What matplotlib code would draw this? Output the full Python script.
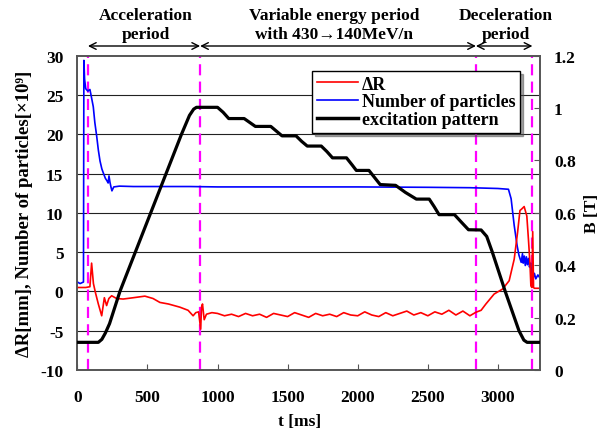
import matplotlib
matplotlib.use("Agg")
import matplotlib.pyplot as plt
from matplotlib.lines import Line2D

plt.rcParams['font.family'] = ['Liberation Serif', 'DejaVu Serif']
plt.rcParams['font.weight'] = 'bold'

# ---- data ----
t_blue = [0, 20, 44, 47, 52, 60, 75, 90, 100, 114, 125, 138, 150, 162, 175, 183, 200, 211, 220, 226, 233,
          240, 247, 260, 300, 400, 600, 800, 1000, 1500, 2000, 2500, 2800, 3000, 3075, 3094, 3116, 3137,
          3150, 3166, 3175, 3180, 3188, 3195, 3203, 3210, 3218, 3225, 3233, 3240, 3250, 3260, 3270, 3285, 3300]
n_blue = [1.2, 1.0, 1.2, 29.4, 27.0, 25.8, 25.5, 25.7, 24.8, 23.5, 21.5, 19.8, 18.0, 16.6, 15.6, 15.2, 14.4,
          14.1, 13.8, 14.7, 13.9, 13.3, 12.8, 13.3, 13.4, 13.35, 13.35, 13.35, 13.3, 13.3, 13.3, 13.25, 13.2,
          13.1, 13.0, 11.8, 8.4, 5.8, 4.6, 3.7, 4.8, 3.6, 4.5, 3.3, 4.4, 3.4, 4.2, 3.1, 3.6, 2.6, 1.6, 2.3,
          1.6, 2.1, 1.7]

t_red = [0, 60, 90, 102, 115, 130, 150, 174, 193, 209, 225, 245, 280, 327, 400, 482, 540, 589, 650, 731,
         790, 826, 845, 865, 880, 886, 893, 905, 921, 960, 1000, 1050, 1100, 1150, 1200, 1250, 1300, 1350,
         1400, 1450, 1500, 1550, 1600, 1650, 1700, 1750, 1800, 1850, 1900, 1950, 2000, 2050, 2100, 2150,
         2200, 2250, 2300, 2350, 2400, 2450, 2500, 2550, 2600, 2650, 2700, 2750, 2800, 2843, 2880, 2914,
         2973, 3033, 3080, 3116, 3140, 3157, 3170, 3187, 3206, 3218, 3228, 3235, 3242, 3248, 3254, 3260, 3300]
v_red = [0.5, 0.5, 0.6, 3.6, 1.0, -0.2, -1.6, -3.1, -0.8, -1.8, -0.9, -0.55, -0.9, -0.97, -0.8, -0.6,
         -0.9, -1.4, -1.6, -2.0, -2.4, -3.1, -2.7, -2.6, -4.8, -2.0, -1.6, -3.6, -2.9, -2.7, -2.8, -3.1,
         -2.9, -3.2, -2.8, -3.1, -2.9, -3.3, -2.8, -3.0, -3.2, -2.7, -3.0, -3.3, -2.8, -3.1, -2.9, -3.2,
         -2.7, -3.0, -3.1, -2.6, -3.0, -3.2, -2.7, -3.1, -2.8, -2.5, -3.0, -2.7, -3.1, -2.6, -2.9, -2.4,
         -3.0, -2.5, -3.1, -2.65, -2.4, -1.6, -0.33, 0.3, 1.36, 4.1, 7.5, 10.3, 10.5, 10.8, 9.6, 6.5, 3.7,
         0.7, 0.5, 7.6, 0.5, 0.4, 0.4]

t_black = [0, 150, 175, 200, 230, 304, 743, 800, 830, 850, 1000, 1040, 1080, 1190, 1230, 1270, 1380,
           1420, 1460, 1560, 1600, 1640, 1740, 1780, 1820, 1920, 1960, 1990, 2080, 2120, 2160, 2270,
           2340, 2418, 2510, 2545, 2580, 2690, 2740, 2790, 2880, 2920, 2960, 3052, 3150, 3185, 3208, 3300]
v_black_left = [-6.48, -6.48, -6.1, -5.3, -4.1, 0.0, 20.0, 22.4, 23.2, 23.43, 23.43, 22.8, 22.0, 22.0,
                21.5, 21.0, 21.0, 20.4, 19.8, 19.8, 19.1, 18.5, 18.5, 17.8, 17.0, 17.0, 16.1, 15.4, 15.4,
                14.5, 13.6, 13.5, 12.6, 11.75, 11.75, 10.8, 9.77, 9.77, 8.8, 7.85, 7.82, 7.0, 5.0, 0.0,
                -5.0, -6.2, -6.48, -6.48]
b_black = [(v + 10) / 40 * 1.2 for v in v_black_left]

vlines_t = [76, 876, 2843, 3246]

left_ticks = [-10, -5, 0, 5, 10, 15, 20, 25, 30]
right_ticks = [0, 0.2, 0.4, 0.6, 0.8, 1.0, 1.2]
right_ticklabels = ['0', '0.2', '0.4', '0.6', '0.8', '1', '1.2']
x_ticks = [0, 500, 1000, 1500, 2000, 2500, 3000]

# ---- figure ----
W, H = 606, 431
AX_L, AX_R, AX_T, AX_B = 77.3, 540, 56.7, 371
fig = plt.figure(figsize=(W / 100, H / 100), dpi=100)
ax = fig.add_axes([AX_L / W, 1 - AX_B / H, (AX_R - AX_L) / W, (AX_B - AX_T) / H])
ax2 = ax.twinx()

ax.set_xlim(0, 3300)
ax.set_ylim(-10, 30)
ax2.set_ylim(0, 1.2)

for y in [-5, 0, 5, 10, 15, 20, 25]:
    ax.axhline(y, color='#222222', lw=0.8, zorder=1)

for tv in vlines_t:
    ax.axvline(tv, color='#FF00FF', lw=1.6, dashes=(5, 2.8), zorder=2)

ax.plot(t_blue, n_blue, color='#0000FF', lw=1.2, zorder=3)
ax.plot(t_red, v_red, color='#FF0000', lw=1.2, zorder=3)
ax2.plot(t_black, b_black, color='black', lw=2.3, zorder=4)

fs = 12.5
ax.set_yticks(left_ticks)
ax.set_yticklabels([str(v) for v in left_ticks], fontsize=fs, fontweight='bold')
ax.set_xticks(x_ticks)
ax.set_xticklabels([str(v) for v in x_ticks], fontsize=fs, fontweight='bold')
ax2.set_yticks(right_ticks)
ax2.set_yticklabels(right_ticklabels, fontsize=fs, fontweight='bold')

ax.tick_params(axis='x', direction='in', length=4, color='#555555', pad=14)
ax.tick_params(axis='y', direction='in', length=0, pad=10)
ax2.tick_params(axis='y', direction='in', length=4, color='#555555', pad=10)

for a in (ax, ax2):
    for s in a.spines.values():
        s.set_color('#555555')
        s.set_linewidth(1.2)

ax.set_xlabel('t [ms]', fontsize=fs, fontweight='bold')
ax.xaxis.set_label_coords((300 - AX_L) / (AX_R - AX_L), 1 - (414 - AX_T) / (AX_B - AX_T))
ax.set_ylabel('ΔR[mm], Number of particles[×10⁹]', fontsize=13.5, fontweight='bold', va='center')
ax.yaxis.set_label_coords((24 - AX_L) / (AX_R - AX_L), 0.5)
ax2.set_ylabel('B [T]', fontsize=fs, fontweight='bold', va='center')
ax2.yaxis.set_label_coords((592 - AX_L) / (AX_R - AX_L), 0.5)

handles = [Line2D([], [], color='#FF0000', lw=1.2),
           Line2D([], [], color='#0000FF', lw=1.2),
           Line2D([], [], color='black', lw=2.5)]
labels = ['ΔR', 'Number of particles', 'excitation pattern']
leg = ax2.legend(handles, labels, loc='upper left',
                 bbox_to_anchor=((312 - AX_L) / (AX_R - AX_L), 1 - (72 - AX_T) / (AX_B - AX_T)),
                 fancybox=False, shadow=True, framealpha=1, edgecolor='black',
                 prop={'weight': 'bold', 'size': 13}, handlelength=2.3,
                 borderpad=0.25, labelspacing=0.05, handletextpad=0.2, borderaxespad=0)
leg.get_frame().set_linewidth(1.0)

# period arrows above the plot
y_arrow = 30 + (AX_T - 47) / ((AX_B - AX_T) / 40)
for a0, a1 in [(76, 876), (876, 2843), (2843, 3246)]:
    ax.annotate('', xy=(a1, y_arrow), xytext=(a0, y_arrow), xycoords='data',
                arrowprops=dict(arrowstyle='<->', color='black', lw=1.0,
                                shrinkA=0, shrinkB=0, mutation_scale=12),
                annotation_clip=False)

txt = [(146, 16, 'Acceleration'), (146, 35, 'period'),
       (334, 16, 'Variable energy period'), (334, 35, 'with 430→140MeV/n'),
       (506, 16, 'Deceleration'), (506, 35, 'period')]
for x, y, s in txt:
    fig.text(x / W, 1 - y / H, s, ha='center', va='center', fontsize=fs,
             fontweight='bold', family=['Liberation Serif', 'DejaVu Serif'])

fig.savefig('out.png', dpi=100)
